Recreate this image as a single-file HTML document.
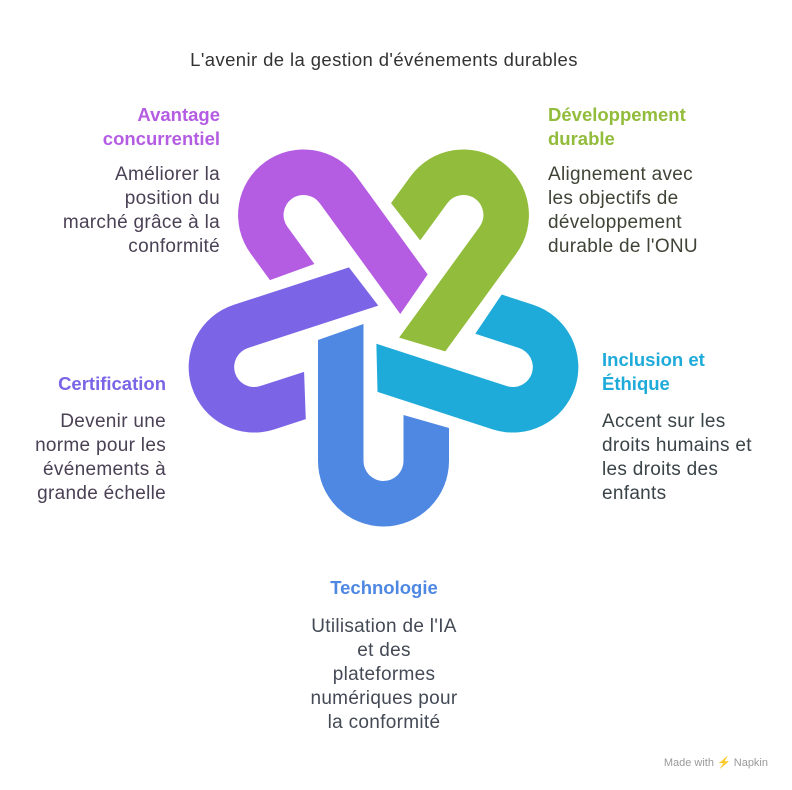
<!DOCTYPE html>
<html><head><meta charset="utf-8"><style>html,body{margin:0;padding:0;background:#fff}svg{display:block}</style></head>
<body>
<svg width="792" height="790" viewBox="0 0 792 790" xmlns="http://www.w3.org/2000/svg" font-family="'Liberation Sans', sans-serif">
<defs>
<path id="u" d="M -65.5,15 L -20,-1 L -20,136 A 20 20 0 0 0 20,136 L 20,90 L 65.5,103 L 65.5,136 A 65.5 65.5 0 0 1 -65.5,136 Z"/>
</defs>
<g transform="translate(383.5,325)">
<use href="#u" fill="#4E88E3"/>
<use href="#u" fill="#1FABD9" transform="rotate(-72)"/>
<use href="#u" fill="#92BC3B" transform="rotate(-144)"/>
<use href="#u" fill="#B55DE2" transform="rotate(144)"/>
<use href="#u" fill="#7B65E6" transform="rotate(72)"/>
</g>
<text x="384" y="66" text-anchor="middle" font-size="18.5" letter-spacing="0.4" fill="#333">L'avenir de la gestion d'événements durables</text>

<g font-size="19" letter-spacing="0.3" text-anchor="end">
<text x="220" y="121" font-weight="bold" font-size="18.5" letter-spacing="0" fill="#B55DE2">Avantage</text>
<text x="220" y="145" font-weight="bold" font-size="18.5" letter-spacing="0" fill="#B55DE2">concurrentiel</text>
<g fill="#4a4155">
<text x="220" y="180">Améliorer la</text>
<text x="220" y="204">position du</text>
<text x="220" y="228">marché grâce à la</text>
<text x="220" y="252">conformité</text>
</g>
<text x="166" y="390" font-weight="bold" font-size="18.5" letter-spacing="0" fill="#7B65E6">Certification</text>
<g fill="#4a4155">
<text x="166" y="427">Devenir une</text>
<text x="166" y="451">norme pour les</text>
<text x="166" y="475">événements à</text>
<text x="166" y="499">grande échelle</text>
</g>
</g>

<g font-size="19" letter-spacing="0.3">
<text x="548" y="121" font-weight="bold" font-size="18.5" letter-spacing="0" fill="#92BC3B">Développement</text>
<text x="548" y="145" font-weight="bold" font-size="18.5" letter-spacing="0" fill="#92BC3B">durable</text>
<g fill="#3f4436">
<text x="548" y="180">Alignement avec</text>
<text x="548" y="204">les objectifs de</text>
<text x="548" y="228">développement</text>
<text x="548" y="252">durable de l'ONU</text>
</g>
<text x="602" y="366" font-weight="bold" font-size="18.5" letter-spacing="0" fill="#1FABD9">Inclusion et</text>
<text x="602" y="390" font-weight="bold" font-size="18.5" letter-spacing="0" fill="#1FABD9">Éthique</text>
<g fill="#3a4448">
<text x="602" y="427">Accent sur les</text>
<text x="602" y="451">droits humains et</text>
<text x="602" y="475">les droits des</text>
<text x="602" y="499">enfants</text>
</g>
</g>

<g font-size="19" letter-spacing="0.3" text-anchor="middle">
<text x="384" y="594" font-weight="bold" font-size="18.5" letter-spacing="0" fill="#4E88E3">Technologie</text>
<g fill="#444a55">
<text x="384" y="632">Utilisation de l'IA</text>
<text x="384" y="656">et des</text>
<text x="384" y="680">plateformes</text>
<text x="384" y="704">numériques pour</text>
<text x="384" y="728">la conformité</text>
</g>
</g>
<text x="768" y="766" text-anchor="end" font-size="11" fill="#999">Made with ⚡ Napkin</text>
</svg>
</body></html>
